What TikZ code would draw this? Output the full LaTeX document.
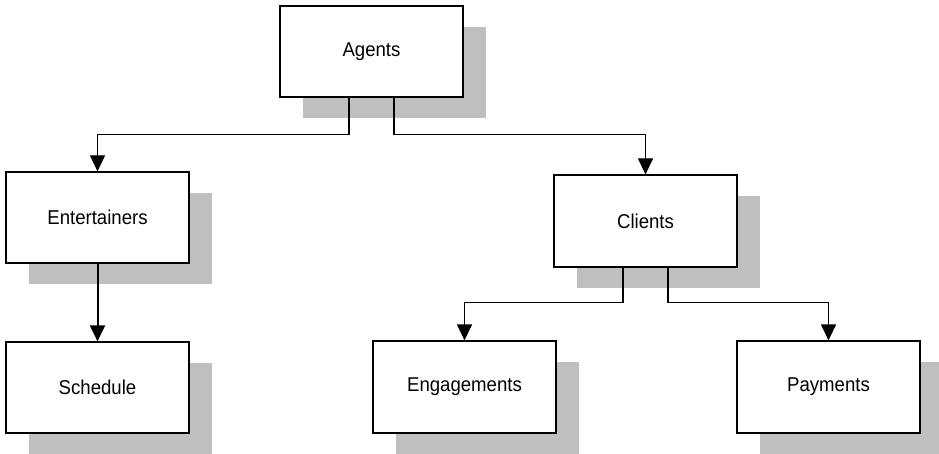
\documentclass[tikz,border=0pt]{standalone}
\usepackage{fontspec}
\setmainfont[FakeStretch=0.93]{Liberation Sans}
\usetikzlibrary{arrows.meta,shadows}
\definecolor{shadowgray}{HTML}{BFBFBF}
\tikzset{
  box/.style={draw=black, line width=1.2pt, fill=white, minimum width=183pt,
    minimum height=91pt, inner sep=0pt, font=\fontsize{20}{24}\selectfont,
    general shadow={fill=shadowgray, shadow xshift=23pt, shadow yshift=-21pt}},
  link/.style={draw=black, line width=1.2pt, -{Triangle[length=16pt,width=15pt]}},
  thicklink/.style={link, line width=2pt},
}
\begin{document}
\begin{tikzpicture}[x=1pt,y=-1pt]
  \useasboundingbox (0,0) rectangle (939,454);
  % boxes
  \node[box] (agents) at (371.5,51.5) {Agents};
  \node[box] (ent) at (97.5,217.5) {Entertainers};
  \node[box] (sched) at (97.5,387.5) {Schedule};
  \node[box, minimum height=92pt] (clients) at (645.5,221) {Clients};
  \node[box, minimum height=92pt] (eng) at (464.5,387) {Engagements};
  \node[box, minimum height=92pt] (pay) at (828.5,387) {Payments};
  % connectors
  \draw[link] ([xshift=-22.5pt]agents.south) -- ++(0,37) -| (ent.north);
  \draw[link] ([xshift=22.5pt]agents.south) -- ++(0,37) -| (clients.north);
  \draw[thicklink] (ent.south) -- (sched.north);
  \draw[link] ([xshift=-22.5pt]clients.south) -- ++(0,35) -| (eng.north);
  \draw[link] ([xshift=22.5pt]clients.south) -- ++(0,35) -| (pay.north);
\end{tikzpicture}
\end{document}
